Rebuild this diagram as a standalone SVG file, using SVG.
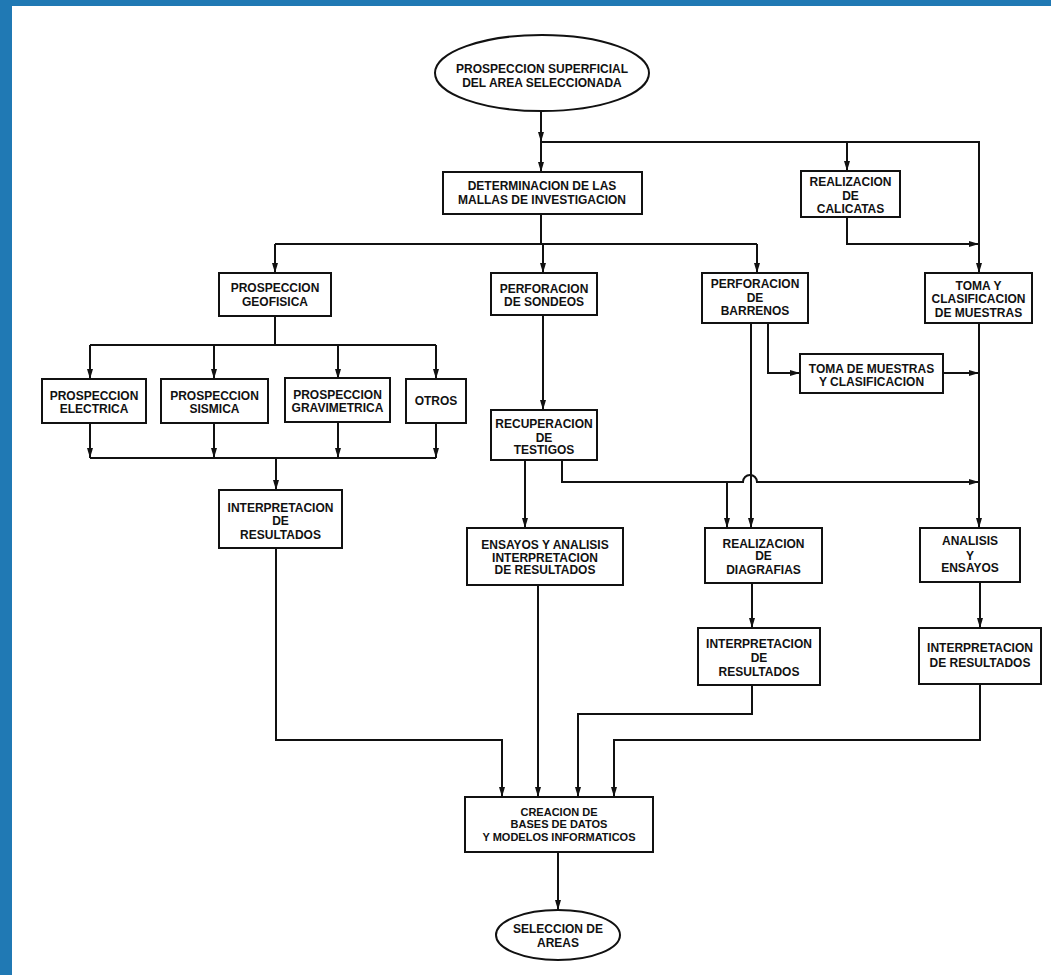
<svg xmlns="http://www.w3.org/2000/svg" width="1051" height="975" viewBox="0 0 1051 975">
<style>
.bx{fill:#fff;stroke:#111;stroke-width:2}
.t{font-family:"Liberation Sans",Arial,sans-serif;font-weight:bold;font-size:12px;text-anchor:middle;fill:#111}
.s{font-size:11px}
.c{fill:none;stroke:#111;stroke-width:2}
</style>
<defs>
<marker id="a" markerUnits="userSpaceOnUse" markerWidth="11" markerHeight="7" refX="10" refY="3" orient="auto">
<path d="M0,0 L10,3 L0,6 z" fill="#111"/>
</marker>
</defs>
<rect x="0" y="0" width="1051" height="975" fill="#fff"/>
<rect x="0" y="0" width="1051" height="6" fill="#2079B4"/>
<rect x="0" y="0" width="12" height="975" fill="#2079B4"/>

<g id="connectors">
<path class="c" d="M541,112 V142" marker-end="url(#a)"/>
<path class="c" d="M541,142 V172" marker-end="url(#a)"/>
<path class="c" d="M541,142 H979 V273" marker-end="url(#a)"/>
<path class="c" d="M847,142 V171" marker-end="url(#a)"/>
<path class="c" d="M847,217 V244 H979" marker-end="url(#a)"/>
<path class="c" d="M541,214 V244"/>
<path class="c" d="M275,244 H757"/>
<path class="c" d="M275,244 V273" marker-end="url(#a)"/>
<path class="c" d="M543,244 V273" marker-end="url(#a)"/>
<path class="c" d="M757,244 V273" marker-end="url(#a)"/>
<path class="c" d="M275,316 V345"/>
<path class="c" d="M90,345 H436"/>
<path class="c" d="M90,345 V379" marker-end="url(#a)"/>
<path class="c" d="M214,345 V379" marker-end="url(#a)"/>
<path class="c" d="M338,345 V379" marker-end="url(#a)"/>
<path class="c" d="M436,345 V379" marker-end="url(#a)"/>
<path class="c" d="M90,423 V458" marker-end="url(#a)"/>
<path class="c" d="M214,423 V458" marker-end="url(#a)"/>
<path class="c" d="M338,422 V458" marker-end="url(#a)"/>
<path class="c" d="M436,423 V458" marker-end="url(#a)"/>
<path class="c" d="M90,458 H436"/>
<path class="c" d="M276,458 V490" marker-end="url(#a)"/>
<path class="c" d="M276,548 V740 H502 V797" marker-end="url(#a)"/>
<path class="c" d="M543,315 V410" marker-end="url(#a)"/>
<path class="c" d="M525,460 V528" marker-end="url(#a)"/>
<path class="c" d="M562,460 V482 H743 A7,7 0 0 1 757,482 H979" marker-end="url(#a)"/>
<path class="c" d="M727,482 V528" marker-end="url(#a)"/>
<path class="c" d="M751,323 V528" marker-end="url(#a)"/>
<path class="c" d="M768,323 V373 H800" marker-end="url(#a)"/>
<path class="c" d="M943,373 H979" marker-end="url(#a)"/>
<path class="c" d="M979,323 V528" marker-end="url(#a)"/>
<path class="c" d="M538,585 V797" marker-end="url(#a)"/>
<path class="c" d="M752,583 V628" marker-end="url(#a)"/>
<path class="c" d="M752,685 V714 H578 V797" marker-end="url(#a)"/>
<path class="c" d="M980,582 V628" marker-end="url(#a)"/>
<path class="c" d="M980,684 V740 H614 V797" marker-end="url(#a)"/>
<path class="c" d="M558,852 V910" marker-end="url(#a)"/>
</g>

<g id="n-prospeccion-superficial">
<ellipse class="bx" cx="542" cy="73" rx="107" ry="38"/>
<text class="t" x="542" y="72.5">PROSPECCION SUPERFICIAL</text>
<text class="t" x="542" y="87">DEL AREA SELECCIONADA</text>
</g>
<g id="n-determinacion">
<rect class="bx" x="443" y="172" width="199" height="42"/>
<text class="t" x="542" y="190">DETERMINACION DE LAS</text>
<text class="t" x="542" y="203.5">MALLAS DE INVESTIGACION</text>
</g>
<g id="n-calicatas">
<rect class="bx" x="801" y="171" width="99" height="46"/>
<text class="t" x="850.5" y="185.5">REALIZACION</text>
<text class="t" x="850.5" y="199.5">DE</text>
<text class="t" x="850.5" y="212.5">CALICATAS</text>
</g>
<g id="n-toma-clasificacion">
<rect class="bx" x="925" y="273" width="107" height="50"/>
<text class="t" x="978.5" y="289.5">TOMA Y</text>
<text class="t" x="978.5" y="302.5">CLASIFICACION</text>
<text class="t" x="978.5" y="316.5">DE MUESTRAS</text>
</g>
<g id="n-geofisica">
<rect class="bx" x="219" y="273" width="112" height="43"/>
<text class="t" x="275" y="291.5">PROSPECCION</text>
<text class="t" x="275" y="305.5">GEOFISICA</text>
</g>
<g id="n-sondeos">
<rect class="bx" x="491" y="273" width="106" height="42"/>
<text class="t" x="544" y="292.5">PERFORACION</text>
<text class="t" x="544" y="305.5">DE SONDEOS</text>
</g>
<g id="n-barrenos">
<rect class="bx" x="702" y="273" width="106" height="50"/>
<text class="t" x="755" y="287.5">PERFORACION</text>
<text class="t" x="755" y="301.5">DE</text>
<text class="t" x="755" y="314.5">BARRENOS</text>
</g>
<g id="n-electrica">
<rect class="bx" x="42" y="379" width="104" height="44"/>
<text class="t" x="94" y="399.5">PROSPECCION</text>
<text class="t" x="94" y="412.5">ELECTRICA</text>
</g>
<g id="n-sismica">
<rect class="bx" x="161" y="379" width="107" height="44"/>
<text class="t" x="214.5" y="399.5">PROSPECCION</text>
<text class="t" x="214.5" y="412.5">SISMICA</text>
</g>
<g id="n-gravimetrica">
<rect class="bx" x="285" y="378" width="105" height="44"/>
<text class="t" x="337.5" y="398.5">PROSPECCION</text>
<text class="t" x="337.5" y="411.5">GRAVIMETRICA</text>
</g>
<g id="n-otros">
<rect class="bx" x="406" y="379" width="60" height="44"/>
<text class="t" x="436" y="404.5">OTROS</text>
</g>
<g id="n-interp-geo">
<rect class="bx" x="219" y="490" width="123" height="58"/>
<text class="t" x="280.5" y="511.5">INTERPRETACION</text>
<text class="t" x="280.5" y="525">DE</text>
<text class="t" x="280.5" y="538.5">RESULTADOS</text>
</g>
<g id="n-recuperacion">
<rect class="bx" x="491" y="410" width="106" height="50"/>
<text class="t" x="544" y="427.5">RECUPERACION</text>
<text class="t" x="544" y="441.5">DE</text>
<text class="t" x="544" y="453.5">TESTIGOS</text>
</g>
<g id="n-toma-muestras">
<rect class="bx" x="800" y="354" width="143" height="39"/>
<text class="t" x="871.5" y="372.5">TOMA DE MUESTRAS</text>
<text class="t" x="871.5" y="385.5">Y CLASIFICACION</text>
</g>
<g id="n-ensayos">
<rect class="bx" x="467" y="528" width="156" height="57"/>
<text class="t" x="545" y="548.5">ENSAYOS Y ANALISIS</text>
<text class="t" x="545" y="561.5">INTERPRETACION</text>
<text class="t" x="545" y="573.5">DE RESULTADOS</text>
</g>
<g id="n-diagrafias">
<rect class="bx" x="705" y="528" width="117" height="55"/>
<text class="t" x="763.5" y="547.5">REALIZACION</text>
<text class="t" x="763.5" y="559.5">DE</text>
<text class="t" x="763.5" y="573.5">DIAGRAFIAS</text>
</g>
<g id="n-interp-diag">
<rect class="bx" x="698" y="628" width="122" height="57"/>
<text class="t" x="759" y="647.5">INTERPRETACION</text>
<text class="t" x="759" y="661.5">DE</text>
<text class="t" x="759" y="675.5">RESULTADOS</text>
</g>
<g id="n-analisis">
<rect class="bx" x="920" y="528" width="100" height="54"/>
<text class="t" x="970" y="544.5">ANALISIS</text>
<text class="t" x="970" y="559.5">Y</text>
<text class="t" x="970" y="571.5">ENSAYOS</text>
</g>
<g id="n-interp-analisis">
<rect class="bx" x="919" y="628" width="122" height="56"/>
<text class="t" x="980" y="651.5">INTERPRETACION</text>
<text class="t" x="980" y="666.5">DE RESULTADOS</text>
</g>
<g id="n-creacion">
<rect class="bx" x="465" y="797" width="188" height="55"/>
<text class="t s" x="559" y="816">CREACION DE</text>
<text class="t s" x="559" y="828">BASES DE DATOS</text>
<text class="t s" x="559" y="841">Y MODELOS INFORMATICOS</text>
</g>
<g id="n-seleccion">
<ellipse class="bx" cx="558" cy="935" rx="62" ry="25"/>
<text class="t" x="558" y="933">SELECCION DE</text>
<text class="t" x="558" y="947">AREAS</text>
</g>
</svg>
